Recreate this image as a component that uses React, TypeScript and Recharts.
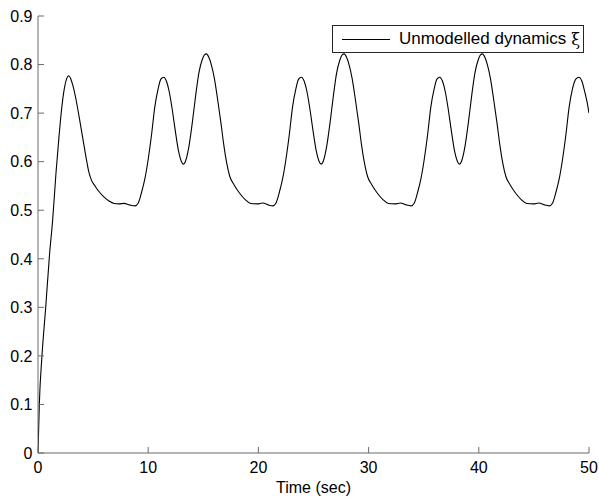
import React from 'react';
import {
  LineChart,
  Line,
  XAxis,
  YAxis,
  Legend,
} from 'recharts';

// time axis (sec) and unmodelled dynamics xi
const timeSec = [
  0, 0.12, 0.36, 0.7, 1.05, 1.33, 1.63, 1.9, 2.15, 2.4, 2.6, 2.78, 2.95, 3.15, 3.45, 3.75, 4.05, 4.35, 4.6, 4.85,
  5.2, 5.55, 6.0, 6.45, 6.9, 7.35, 7.8, 8.3, 8.8,
  9.1, 9.4, 9.7, 10.0, 10.3, 10.6, 10.9, 11.15, 11.4, 11.65, 11.9, 12.15, 12.45, 12.75, 13.0, 13.2, 13.4, 13.7,
  14.0, 14.3, 14.6, 14.9, 15.1, 15.28, 15.5, 15.75, 16.0, 16.3, 16.6, 16.85, 17.1, 17.4, 17.8, 18.3, 18.8, 19.3,
  19.9, 20.4, 20.9, 21.3,
  21.6, 21.9, 22.2, 22.5, 22.8, 23.1, 23.4, 23.65, 23.9, 24.15, 24.4, 24.65, 24.95, 25.25, 25.5, 25.7, 25.9, 26.2,
  26.5, 26.8, 27.1, 27.4, 27.6, 27.78, 28.0, 28.25, 28.5, 28.8, 29.1, 29.35, 29.6, 29.9, 30.3, 30.8, 31.3, 31.8,
  32.4, 32.9, 33.4, 33.85,
  34.15, 34.45, 34.75, 35.05, 35.35, 35.65, 35.95, 36.2, 36.45, 36.7, 36.95, 37.2, 37.5, 37.8, 38.05, 38.25, 38.45,
  38.75, 39.05, 39.35, 39.65, 39.95, 40.15, 40.33, 40.55, 40.8, 41.05, 41.35, 41.65, 41.9, 42.15, 42.45, 42.85,
  43.35, 43.85, 44.35, 44.95, 45.45, 45.95, 46.4,
  46.7, 47.0, 47.3, 47.6, 47.9, 48.2, 48.5, 48.8, 49.1, 49.35, 49.6, 49.85, 50.0,
];

const xiValues = [
  0, 0.1, 0.2, 0.3, 0.41, 0.48, 0.576, 0.65, 0.71, 0.752, 0.771, 0.777, 0.772, 0.758, 0.728, 0.69, 0.65, 0.61, 0.58, 0.562,
  0.549, 0.538, 0.527, 0.519, 0.514, 0.513, 0.514, 0.511, 0.509,
  0.515, 0.537, 0.565, 0.605, 0.655, 0.713, 0.75, 0.77, 0.774, 0.766, 0.745, 0.712, 0.665, 0.622, 0.601, 0.595, 0.602, 0.632,
  0.68, 0.735, 0.783, 0.81, 0.82, 0.822, 0.815, 0.798, 0.772, 0.728, 0.68, 0.636, 0.6, 0.57, 0.552, 0.535, 0.522, 0.514,
  0.513, 0.515, 0.511, 0.509,
  0.515, 0.537, 0.565, 0.605, 0.655, 0.713, 0.75, 0.77, 0.774, 0.766, 0.745, 0.712, 0.665, 0.622, 0.601, 0.595, 0.602, 0.632,
  0.68, 0.735, 0.783, 0.81, 0.82, 0.822, 0.815, 0.798, 0.772, 0.728, 0.68, 0.636, 0.6, 0.57, 0.552, 0.535, 0.522, 0.514,
  0.513, 0.515, 0.511, 0.509,
  0.515, 0.537, 0.565, 0.605, 0.655, 0.713, 0.75, 0.77, 0.774, 0.766, 0.745, 0.712, 0.665, 0.622, 0.601, 0.595, 0.602,
  0.632, 0.68, 0.735, 0.783, 0.81, 0.82, 0.822, 0.815, 0.798, 0.772, 0.728, 0.68, 0.636, 0.6, 0.57, 0.552,
  0.535, 0.522, 0.514, 0.513, 0.515, 0.511, 0.509,
  0.515, 0.537, 0.565, 0.605, 0.655, 0.713, 0.75, 0.77, 0.774, 0.766, 0.745, 0.72, 0.7,
];

const xTicks = [0, 10, 20, 30, 40, 50];
const yTicks = [0, 0.1, 0.2, 0.3, 0.4, 0.5, 0.6, 0.7, 0.8, 0.9];

const seriesName = 'Unmodelled dynamics';

const data = timeSec.map((t, i) => ({ t, xi: xiValues[i] }));

const FONT = '"Liberation Sans", Arial, Helvetica, sans-serif';
const AXIS_COLOR = '#6b6b6b';
const TICK_LEN = 6;

const fmtY = (v: number) => (v === 0 ? '0' : String(Number(v.toFixed(1))));

// matlab draws ticks pointing into the box, so ticks are drawn by hand
const BottomTick = ({ x, y, payload }: any) => (
  <g>
    <line x1={x} x2={x} y1={y} y2={y - TICK_LEN} stroke={AXIS_COLOR} />
    <text x={x} y={y + 20} textAnchor="middle" fontSize={16} fontFamily={FONT} fill="#000">
      {payload.value}
    </text>
  </g>
);

const TopTick = ({ x, y }: any) => (
  <line x1={x} x2={x} y1={y} y2={y + TICK_LEN} stroke={AXIS_COLOR} />
);

const LeftTick = ({ x, y, payload }: any) => (
  <g>
    <line x1={x} x2={x + TICK_LEN} y1={y} y2={y} stroke={AXIS_COLOR} />
    <text x={x - 5.5} y={y} dy="0.36em" textAnchor="end" fontSize={16} fontFamily={FONT} fill="#000">
      {fmtY(payload.value)}
    </text>
  </g>
);

const RightTick = ({ x, y }: any) => (
  <line x1={x} x2={x - TICK_LEN} y1={y} y2={y} stroke={AXIS_COLOR} />
);

// boxed legend in the top right corner
const LegendBox = () => (
  <div
    style={{
      width: 250,
      height: 26,
      border: '1px solid #262626',
      background: '#fff',
      display: 'flex',
      alignItems: 'center',
      fontFamily: FONT,
      fontSize: 17,
      color: '#000',
      boxSizing: 'content-box',
    }}
  >
    <div style={{ width: 48, borderTop: '1px solid #000', marginLeft: 9, marginRight: 9 }} />
    <span>{seriesName}</span>
    <span style={{ fontFamily: '"DejaVu Serif", "Liberation Serif", serif', marginLeft: 5, fontSize: 16 }}>ξ</span>
  </div>
);

export default function App() {
  return (
    <div style={{ position: 'absolute', left: 0, top: 0, background: '#fff' }}>
      <LineChart
        width={599}
        height={500}
        data={data}
        margin={{ top: 16, right: 10, left: 0, bottom: 0 }}
      >
        <XAxis
          dataKey="t"
          type="number"
          domain={[0, 50]}
          ticks={xTicks}
          interval={0}
          allowDataOverflow
          height={47}
          tickSize={0}
          tickMargin={0}
          tickLine={false}
          stroke={AXIS_COLOR}
          tick={<BottomTick />}
          label={{
            value: 'Time (sec)',
            position: 'insideBottom',
            offset: 7,
            style: { fontSize: 16, fill: '#000', fontFamily: FONT },
          }}
        />
        <XAxis
          xAxisId="top"
          orientation="top"
          dataKey="t"
          type="number"
          domain={[0, 50]}
          ticks={xTicks}
          interval={0}
          allowDataOverflow
          height={0}
          tickSize={0}
          tickMargin={0}
          tickLine={false}
          tick={<TopTick />}
          stroke={AXIS_COLOR}
        />
        <YAxis
          type="number"
          domain={[0, 0.9]}
          ticks={yTicks}
          interval={0}
          allowDataOverflow
          width={38}
          tickSize={0}
          tickMargin={0}
          tickLine={false}
          stroke={AXIS_COLOR}
          tick={<LeftTick />}
        />
        <YAxis
          yAxisId="right"
          orientation="right"
          type="number"
          domain={[0, 0.9]}
          ticks={yTicks}
          interval={0}
          allowDataOverflow
          width={0}
          tickSize={0}
          tickMargin={0}
          tickLine={false}
          tick={<RightTick />}
          stroke={AXIS_COLOR}
        />
        <Legend
          layout="vertical"
          align="center"
          verticalAlign="middle"
          content={() => <LegendBox />}
          wrapperStyle={{ position: 'absolute', left: 332, top: 25, width: 252 }}
        />
        <Line
          type="monotone"
          dataKey="xi"
          name={seriesName}
          stroke="#000"
          strokeWidth={1.1}
          dot={false}
          activeDot={false}
          isAnimationActive={false}
        />
      </LineChart>
    </div>
  );
}
